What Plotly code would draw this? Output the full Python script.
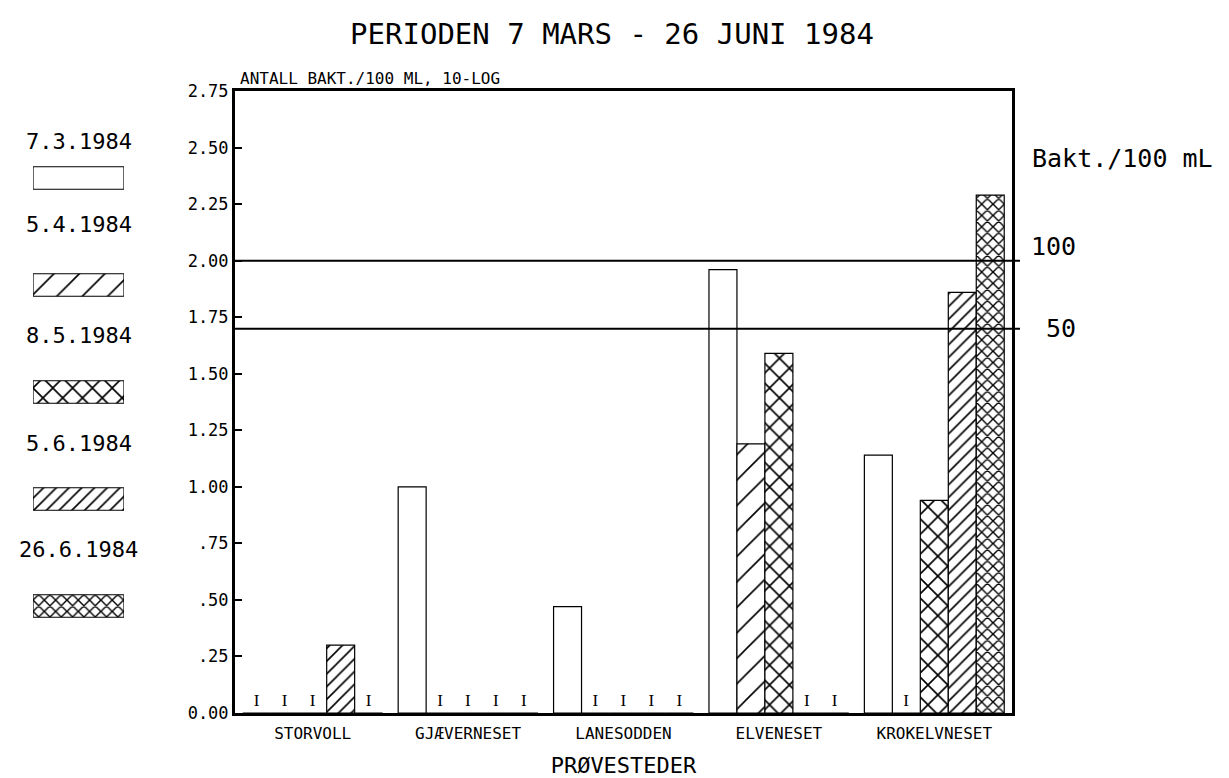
"""
Bakteriemengder per prøvested, perioden 7 mars - 26 juni 1984.
"""

import math

import plotly.graph_objects as go

# --- data -----------------------------------------------------------------
SITES = ["STORVOLL", "GJÆVERNESET", "LANESODDEN", "ELVENESET", "KROKELVNESET"]
DATES = ["7.3.1984", "5.4.1984", "8.5.1984", "5.6.1984", "26.6.1984"]

# 10-log of bacteria / 100 mL; None = not detected (drawn as "I")
D_0703 = [None, 1.00, 0.47, 1.96, 1.14]
D_0504 = [None, None, None, 1.19, None]
D_0805 = [None, None, None, 1.59, 0.94]
D_0506 = [0.30, None, None, None, 1.86]
D_2606 = [None, None, None, None, 2.29]
SERIES = [D_0703, D_0504, D_0805, D_0506, D_2606]

LIMITS = [100, 50]  # bakt./100 mL reference levels

Y_TICKS = [0, 0.25, 0.5, 0.75, 1.0, 1.25, 1.5, 1.75, 2.0, 2.25, 2.5, 2.75]
Y_TICKTEXT = ["0.00", ".25", ".50", ".75", "1.00", "1.25", "1.50", "1.75",
              "2.00", "2.25", "2.50", "2.75"]

# --- styles ---------------------------------------------------------------
MONO = "DejaVu Sans Mono"
PATTERNS = [
    dict(shape="", size=10, solidity=0.1),
    dict(shape="/", size=18, solidity=0.09),
    dict(shape="x", size=14, solidity=0.22),
    dict(shape="/", size=9, solidity=0.18),
    dict(shape="x", size=8, solidity=0.32),
]
LABEL_SHIFT = [36, 60, 57, 56, 57]  # legend label offset above its box

# page body adds an 8px margin, so the figure is shrunk and targets shifted
PAGE_OFF = 8
W, H = 1229 - PAGE_OFF, 778 - PAGE_OFF
M = dict(l=12, r=12, t=91 - PAGE_OFF, b=65)
PW = W - M["l"] - M["r"]
PH = H - M["t"] - M["b"]


def px_x(p):
    return (p - PAGE_OFF - M["l"]) / PW


def px_y(p):
    return (H - M["b"] - (p - PAGE_OFF)) / PH


fig = go.Figure()

for name, vals, pat in zip(DATES, SERIES, PATTERNS):
    fig.add_trace(
        go.Bar(
            x=SITES,
            y=[v if v is not None else 0 for v in vals],
            text=["I" if v is None else "" for v in vals],
            textposition="outside",
            textfont=dict(family="Liberation Serif", size=17, color="black"),
            cliponaxis=False,
            name=name,
            marker=dict(
                color="white",
                line=dict(color="black", width=1.2),
                pattern=dict(fgcolor="black", bgcolor="white", fillmode="replace", **pat),
            ),
            showlegend=False,
        )
    )

# legend drawn as its own small subplot
fig.add_trace(
    go.Bar(
        y=DATES,
        x=[1] * len(DATES),
        orientation="h",
        width=0.21,
        xaxis="x2",
        yaxis="y2",
        marker=dict(
            color="white",
            line=dict(color="black", width=1.2),
            pattern=dict(
                fgcolor="black",
                bgcolor="white",
                fillmode="replace",
                shape=[p["shape"] for p in PATTERNS],
                size=[p["size"] for p in PATTERNS],
                solidity=[p["solidity"] for p in PATTERNS],
            ),
        ),
        showlegend=False,
        hoverinfo="skip",
    )
)

for d, shift in zip(DATES, LABEL_SHIFT):
    fig.add_annotation(
        text=d, xref="x2", yref="y2", x=0.5, y=d, yshift=shift,
        showarrow=False, font=dict(family=MONO, size=22, color="black"),
    )

x0, x1 = px_x(235), px_x(1012)
for lim in LIMITS:
    fig.add_shape(
        type="line", xref="paper", yref="y",
        x0=x0, x1=px_x(1020), y0=math.log10(lim), y1=math.log10(lim),
        line=dict(color="black", width=2),
    )
fig.add_annotation(
    text=str(LIMITS[0]), xref="paper", yref="y", x=px_x(1078), y=math.log10(LIMITS[0]),
    xanchor="right", yshift=14, showarrow=False,
    font=dict(family=MONO, size=25, color="black"),
)
fig.add_annotation(
    text=str(LIMITS[1]), xref="paper", yref="y", x=px_x(1078), y=math.log10(LIMITS[1]),
    xanchor="right", showarrow=False,
    font=dict(family=MONO, size=25, color="black"),
)
fig.add_annotation(
    text="Bakt./100 mL", xref="paper", yref="paper", x=px_x(1030), y=px_y(142),
    xanchor="left", showarrow=False,
    font=dict(family=MONO, size=25, color="black"),
)
fig.add_annotation(
    text="ANTALL BAKT./100 ML, 10-LOG", xref="paper", yref="paper", x=px_x(238), y=1,
    xanchor="left", yanchor="bottom", yshift=1, showarrow=False,
    font=dict(family=MONO, size=16, color="black"),
)

fig.update_layout(
    width=W,
    height=H,
    margin=M,
    title=dict(
        text="PERIODEN 7 MARS - 26 JUNI 1984",
        x=(612 - PAGE_OFF) / W, xanchor="center", y=1 - (34 - PAGE_OFF) / H, yanchor="middle",
        font=dict(family=MONO, size=29, color="black"),
    ),
    barmode="group",
    bargap=0.1,
    bargroupgap=0,
    plot_bgcolor="white",
    paper_bgcolor="white",
    font=dict(family=MONO, color="black"),
    xaxis=dict(
        domain=[x0, x1],
        automargin=False,
        showline=True, linewidth=3, linecolor="black", mirror=True,
        ticks="", showgrid=False,
        ticklabelstandoff=4,
        tickfont=dict(family=MONO, size=16),
        title=dict(text="PRØVESTEDER", font=dict(family=MONO, size=22), standoff=17),
    ),
    yaxis=dict(
        range=[0, 2.75],
        automargin=False,
        tickvals=Y_TICKS,
        ticktext=Y_TICKTEXT,
        ticks="inside", ticklen=7, tickwidth=1.5, tickcolor="black",
        showline=True, linewidth=3, linecolor="black", mirror=True,
        showgrid=False, zeroline=False,
        tickfont=dict(family=MONO, size=17),
    ),
    xaxis2=dict(
        domain=[px_x(33), px_x(124)], range=[0, 1], anchor="y2",
        visible=False, fixedrange=True,
    ),
    yaxis2=dict(
        domain=[0, 1], anchor="x2", type="category",
        categoryorder="array", categoryarray=DATES,
        range=[5.0, -0.813], visible=False, fixedrange=True,
    ),
)

fig.write_html("out.html")
